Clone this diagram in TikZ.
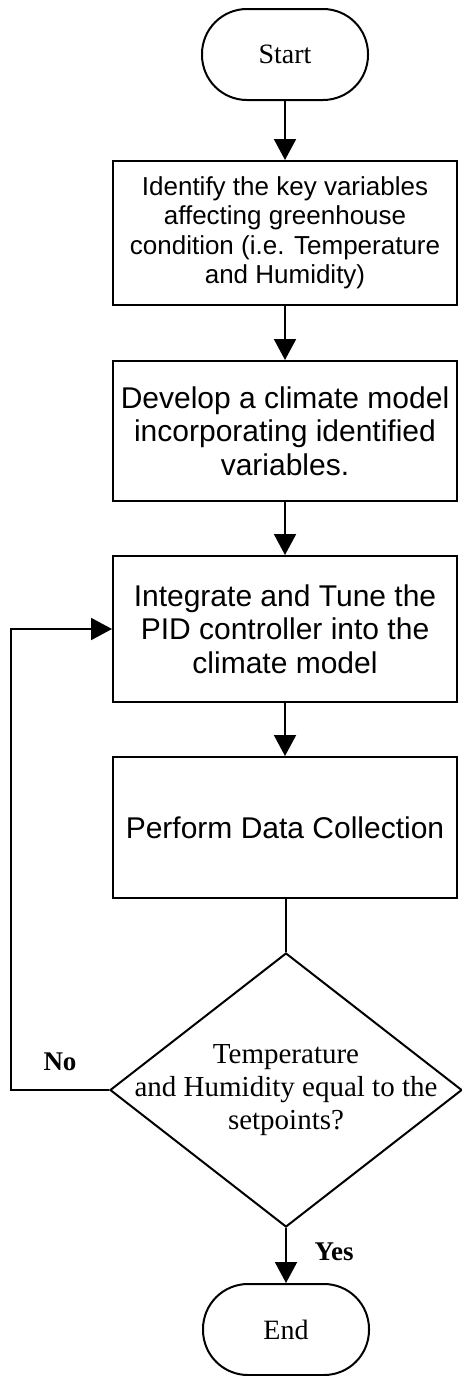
\documentclass[tikz,border=0pt]{standalone}
\usepackage{fontspec}
\setmainfont{Liberation Serif}
\newfontfamily\arialf{Liberation Sans}
\usetikzlibrary{arrows.meta,shapes.geometric}
\begin{document}
\begin{tikzpicture}[x=1pt,y=-1pt,
  line width=2pt,
  arr/.style={-{Triangle[length=21pt,width=22pt]}},
  term/.style={draw,rectangle,rounded corners=45pt,minimum width=166pt,minimum height=91pt,inner sep=0pt,font=\fontsize{28}{32}\selectfont},
  procbox/.style={draw,rectangle,minimum width=344pt,inner sep=0pt,align=center,font=\arialf\fontsize{30}{33.5}\selectfont},
  decision/.style={draw,diamond,minimum width=352pt,minimum height=274pt,inner sep=0pt},
  lbl/.style={font=\bfseries\fontsize{27}{30}\selectfont}
]
\useasboundingbox (0,0) rectangle (462,1376);
\node[term] (start) at (285,54.5) {Start};
\node[procbox,minimum height=144pt,font=\arialf\fontsize{26}{29.5}\selectfont] (b1) at (285,233)
  {Identify the key variables\\affecting greenhouse\\condition (i.e. Temperature\\and Humidity)};
\node[procbox,minimum height=140pt] (b2) at (285,431)
  {Develop a climate model\\incorporating identified\\variables.};
\node[procbox,minimum height=146pt] (b3) at (285,629)
  {Integrate and Tune the\\PID controller into the\\climate model};
\node[procbox,minimum height=141pt] (b4) at (285,827.5)
  {Perform Data Collection};
\node[decision] (d) at (286,1090) {};
\node[align=center,font=\fontsize{29}{33}\selectfont] (dt) at (d.center)
  {Temperature\\and Humidity equal to the\\setpoints?};
\node[term] (end) at (286,1329.5) {End};
\coordinate (c1) at (11,1090);
\coordinate (c2) at (11,629);
\draw[arr] (start) -- (b1);
\draw[arr] (b1) -- (b2);
\draw[arr] (b2) -- (b3);
\draw[arr] (b3) -- (b4);
\draw (b4.south -| d.north) -- (d.north);
\draw[arr] (d.south) -- (end.north);
\draw[arr] (d.west) -- (c1) -- (c2) -- (b3.west);
\node[lbl] (no) at (60,1062) {No};
\node[lbl] (yes) at (334,1252) {Yes};
\end{tikzpicture}
\end{document}
